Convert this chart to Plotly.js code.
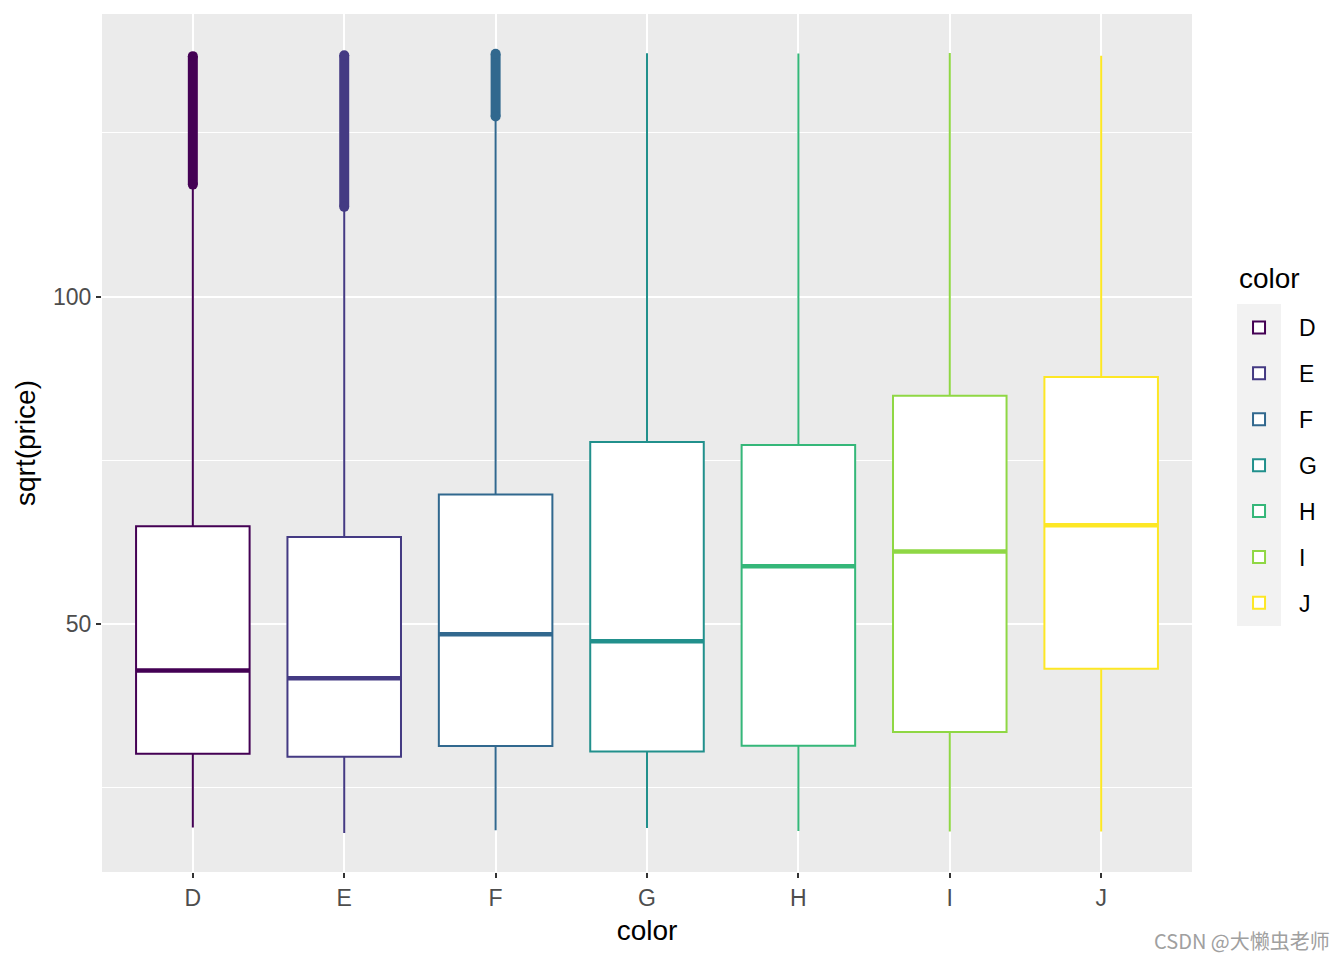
<!DOCTYPE html>
<html>
<head>
<meta charset="utf-8">
<script src="https://cdn.plot.ly/plotly-3.0.1.min.js"></script>
<style>html,body{margin:0;padding:0;background:#fff;}#chart{width:1344px;height:960px;}</style>
</head>
<body>
<div id="chart"></div>
<script>
// sqrt(price) summary by diamond colour
const categories = ['D', 'E', 'F', 'G', 'H', 'I', 'J'];
const q1Values = [30.18, 29.70, 31.34, 30.51, 31.37, 33.47, 43.13];
const medianValues = [42.87, 41.70, 48.41, 47.35, 58.82, 61.07, 65.07];
const q3Values = [64.92, 63.27, 69.77, 77.77, 77.33, 84.86, 87.72];
const lowerWhisker = [18.89, 18.06, 18.49, 18.81, 18.36, 18.28, 18.30];
const upperWhisker = [116.9, 113.5, 127.3, 137.18, 137.12, 137.20, 136.78];
const outlierLow = [117.1, 113.7, 127.5, null, null, null, null];
const outlierHigh = [136.72, 136.86, 137.08, null, null, null, null];
const seriesColors = ['#440154', '#443A83', '#31688E', '#21908C', '#35B779', '#8FD744', '#FDE725'];

const font = 'Liberation Sans, Arial, sans-serif';
const traces = [];
categories.forEach((c, i) => {
  traces.push({
    type: 'box', name: c, x: [c], q1: [q1Values[i]], median: [medianValues[i]], q3: [q3Values[i]],
    lowerfence: [lowerWhisker[i]], upperfence: [upperWhisker[i]],
    width: 0.75, whiskerwidth: 0, fillcolor: '#FFFFFF', boxpoints: false,
    line: {color: seriesColors[i], width: 2}, legendgroup: c, showlegend: true
  });
  traces.push({
    type: 'box', name: c, x: [c], q1: [medianValues[i]], median: [medianValues[i]], q3: [medianValues[i]],
    lowerfence: [medianValues[i]], upperfence: [medianValues[i]],
    width: 0.75, whiskerwidth: 0, fillcolor: 'rgba(0,0,0,0)', boxpoints: false,
    line: {color: seriesColors[i], width: 4.5}, legendgroup: c, showlegend: false, hoverinfo: 'skip'
  });
  if (outlierLow[i] !== null) {
    traces.push({
      type: 'scatter', mode: 'lines+markers', x: [c, c], y: [outlierLow[i], outlierHigh[i]],
      line: {color: seriesColors[i], width: 10}, marker: {color: seriesColors[i], size: 10},
      legendgroup: c, showlegend: false
    });
  }
});

const layout = {
  width: 1344, height: 960,
  margin: {l: 102, r: 152, t: 14, b: 88},
  paper_bgcolor: '#FFFFFF', plot_bgcolor: '#EBEBEB',
  font: {family: font, color: '#000000'},
  boxmode: 'overlay',
  showlegend: true,
  xaxis: {
    type: 'category', categoryorder: 'array', categoryarray: categories,
    range: [-0.6, 6.6], showgrid: true, gridcolor: '#FFFFFF', gridwidth: 2,
    zeroline: false, showline: false,
    ticks: 'outside', ticklen: 5, tickwidth: 2, tickcolor: '#333333',
    tickfont: {size: 23, color: '#4D4D4D', family: font},
    title: {text: 'color', font: {size: 28, color: '#000000', family: font}, standoff: 10}
  },
  yaxis: {
    range: [12.1, 143.16], tickvals: [50, 100], ticktext: ['50', '100'],
    showgrid: true, gridcolor: '#FFFFFF', gridwidth: 2, zeroline: false, showline: false,
    ticks: 'outside', ticklen: 5, tickwidth: 2, tickcolor: '#333333',
    tickfont: {size: 23, color: '#4D4D4D', family: font},
    minor: {tickvals: [25, 75, 125], showgrid: true, gridcolor: '#FFFFFF', gridwidth: 1, ticks: ''},
    title: {text: 'sqrt(price)', font: {size: 28, color: '#000000', family: font}, standoff: 9}
  },
  legend: {
    x: 1.0248, y: 0.6597, xanchor: 'left', yanchor: 'top', itemwidth: 70,
    font: {size: 23, family: font}, tracegroupgap: 13, bgcolor: 'rgba(0,0,0,0)'
  },
  shapes: [{
    type: 'rect', xref: 'paper', yref: 'paper', x0: 1.0413, x1: 1.0817, y0: 0.2867, y1: 0.662,
    fillcolor: '#F2F2F2', line: {width: 0}, layer: 'below'
  }],
  annotations: [{
    xref: 'paper', yref: 'paper', x: 1.0413, y: 0.692, xanchor: 'left', yanchor: 'middle',
    text: 'color', showarrow: false, font: {size: 28, color: '#000000', family: font}
  }, {
    xref: 'paper', yref: 'paper', x: 1.128, y: -0.08, xanchor: 'right', yanchor: 'middle',
    text: 'CSDN @大懒虫老师', showarrow: false,
    font: {size: 20, color: '#A0A0A0', family: 'Noto Sans CJK SC, sans-serif'}
  }]
};

Plotly.newPlot('chart', traces, layout, {displayModeBar: false});
</script>
</body>
</html>
